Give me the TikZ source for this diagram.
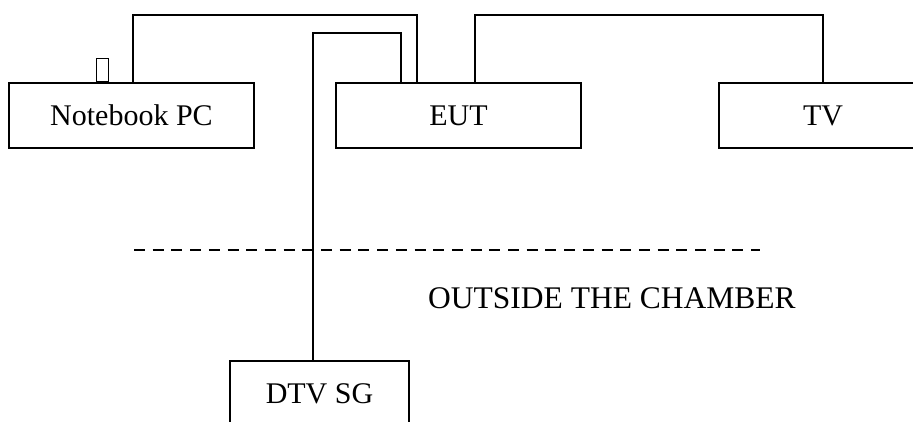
\documentclass[tikz,border=0pt]{standalone}
\usepackage{fontspec}
\setmainfont{Liberation Serif}
\begin{document}
\begin{tikzpicture}[x=1pt,y=-1pt,
  box/.style={draw, line width=2pt, minimum height=65pt, inner sep=0pt, font=\fontsize{30}{36}\selectfont},
  cable/.style={line width=2.5pt, line join=miter},
  sepline/.style={line width=2.5pt, dash pattern=on 11pt off 7.7pt},
  label/.style={inner sep=0pt, font=\fontsize{31.5}{38}\selectfont}]
\useasboundingbox (0,0) rectangle (913,421);
\begin{scope}
\clip (0,0) rectangle (913,421);
\node[box, minimum width=245pt] (nb) at (131.5,115.5) {Notebook PC};
\node[box, minimum width=245pt] (eut) at (458.5,115.5) {EUT};
\node[box, minimum width=208pt] (tv) at (823,115.5) {TV};
\node[box, minimum width=179pt] (dtv) at (319.5,393.5) {DTV SG};
\node[draw, line width=1pt, minimum width=12pt, minimum height=23pt, inner sep=0pt, anchor=south] (port) at ([xshift=94pt]nb.north west) {};
\draw[cable] ([xshift=125pt]nb.north west) -- ++(0,-67) -| ([xshift=82pt]eut.north west);
\draw[cable] ([xshift=84pt]dtv.north west) -- ++(0,-327) -| ([xshift=66pt]eut.north west);
\draw[cable] ([xshift=140pt]eut.north west) -- ++(0,-67) -| ([xshift=105pt]tv.north west);
\coordinate (d1) at (134,250);
\coordinate (d2) at (760,250);
\draw[sepline] (d1) -- (d2);
\node[label, anchor=base west] (out) at (428,308) {OUTSIDE THE CHAMBER};
\end{scope}
\end{tikzpicture}
\end{document}
